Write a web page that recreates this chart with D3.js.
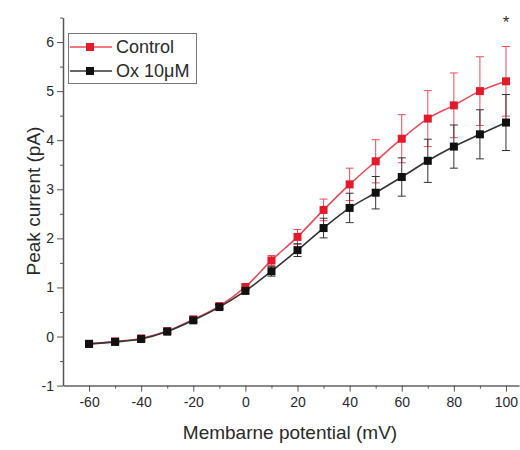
<!DOCTYPE html>
<html><head><meta charset="utf-8">
<script src="https://cdn.jsdelivr.net/npm/d3@7/dist/d3.min.js"></script>
<style>body{margin:0;background:#fff;} svg{display:block;font-family:Arial,"Liberation Sans",sans-serif;}</style>
</head><body><svg id="c" width="520" height="450"></svg>
<script>
const voltages = [-60,-50,-40,-30,-20,-10,0,10,20,30,40,50,60,70,80,90,100];
const controlMean = [-0.15,-0.10,-0.04,0.11,0.35,0.62,1.01,1.55,2.03,2.58,3.10,3.57,4.03,4.44,4.71,5.00,5.20];
const controlErr  = [0.03,0.03,0.03,0.03,0.04,0.05,0.06,0.10,0.15,0.22,0.33,0.44,0.49,0.57,0.66,0.70,0.71];
const oxMean = [-0.15,-0.11,-0.05,0.10,0.33,0.60,0.93,1.33,1.76,2.21,2.62,2.93,3.25,3.58,3.87,4.12,4.36];
const oxErr  = [0.03,0.03,0.03,0.03,0.04,0.05,0.06,0.10,0.13,0.20,0.30,0.33,0.39,0.44,0.44,0.50,0.57];
const xTicks = [-60,-40,-20,0,20,40,60,80,100];
const yTicks = [-1,0,1,2,3,4,5,6];
const seriesNames = ["Control","Ox 10\u03bcM"];

const svg = d3.select("#c");
const x = d3.scaleLinear().domain([-70,105]).range([63,519]);
const y = d3.scaleLinear().domain([-1,6.5]).range([385.6,17.5]);
const txt = "#2a2a2a";
const fmt = d => String(d);

// axes
const xAxis = svg.append("g").attr("transform",`translate(0,${y(-1)})`)
  .call(d3.axisBottom(x).tickValues(xTicks).tickSize(6).tickSizeOuter(0).tickFormat(fmt));
const xMinor = svg.append("g").attr("transform",`translate(0,${y(-1)})`)
  .call(d3.axisBottom(x).tickValues(d3.range(-50,101,20)).tickSize(3).tickSizeOuter(0).tickFormat(""));
xMinor.select(".domain").remove();
xAxis.select(".domain").attr("stroke","#8a8a8a").attr("stroke-width",2);
[xAxis,xMinor].forEach(g=>g.selectAll(".tick line").attr("stroke","#555"));
xAxis.selectAll(".tick text").attr("font-size",14).attr("fill",txt).attr("dy","0.9em");

const yAxis = svg.append("g").attr("transform",`translate(${x(-70)},0)`)
  .call(d3.axisLeft(y).tickValues(yTicks).tickSize(6).tickSizeOuter(0).tickFormat(fmt));
const yMinor = svg.append("g").attr("transform",`translate(${x(-70)},0)`)
  .call(d3.axisLeft(y).tickValues(d3.range(-0.5,6.6,1)).tickSize(3).tickSizeOuter(0).tickFormat(""));
yMinor.select(".domain").remove();
yAxis.select(".domain").attr("stroke","#555").attr("stroke-width",1.5);
[yAxis,yMinor].forEach(g=>g.selectAll(".tick line").attr("stroke","#555"));
yAxis.selectAll(".tick text").attr("font-size",14).attr("fill",txt).attr("x",-9);

svg.append("text").attr("x",290).attr("y",439).attr("text-anchor","middle")
  .attr("font-size",19).attr("fill",txt).text("Membarne potential (mV)");
svg.append("text").attr("transform","translate(40,201) rotate(-90)").attr("text-anchor","middle")
  .attr("font-size",19).attr("fill",txt).text("Peak current (pA)");

// series
const series = [
  {name:seriesNames[0], mean:controlMean, err:controlErr, color:"#e31a2c", line:"#ef4a5a"},
  {name:seriesNames[1], mean:oxMean, err:oxErr, color:"#111", line:"#333"}
];
const line = d3.line().curve(d3.curveMonotoneX);
series.forEach(s=>{
  const g = svg.append("g");
  const pts = voltages.map((v,i)=>[x(v),y(s.mean[i])]);
  g.append("path").attr("d",line(pts)).attr("fill","none").attr("stroke",s.line).attr("stroke-width",1.6);
  voltages.forEach((v,i)=>{
    const cx=x(v), top=y(s.mean[i]+s.err[i]), bot=y(s.mean[i]-s.err[i]);
    g.append("line").attr("x1",cx).attr("x2",cx).attr("y1",top).attr("y2",bot).attr("stroke",s.line).attr("stroke-width",1);
    [top,bot].forEach(yy=>g.append("line").attr("x1",cx-4).attr("x2",cx+4).attr("y1",yy).attr("y2",yy).attr("stroke",s.line).attr("stroke-width",1));
  });
  g.selectAll("rect").data(voltages).join("rect")
    .attr("x",v=>x(v)-4).attr("y",(v,i)=>y(s.mean[i])-4).attr("width",8).attr("height",8).attr("fill",s.color);
});

// significance
svg.append("text").attr("x",x(100)).attr("y",28).attr("text-anchor","middle").attr("font-size",17).attr("fill","#333").text("*");

// legend
const lg = svg.append("g");
lg.append("rect").attr("x",68.5).attr("y",33.5).attr("width",128).attr("height",50).attr("fill","#fff").attr("stroke","#777").attr("stroke-width",1);
series.forEach((s,i)=>{
  const yy = 47 + i*24;
  lg.append("line").attr("x1",70).attr("x2",112).attr("y1",yy).attr("y2",yy).attr("stroke",s.line).attr("stroke-width",1.6);
  lg.append("rect").attr("x",86).attr("y",yy-4).attr("width",8).attr("height",8).attr("fill",s.color);
  lg.append("text").attr("x",116).attr("y",yy).attr("dy","0.35em").attr("font-size",18).attr("fill",txt).text(s.name);
});
</script></body></html>
